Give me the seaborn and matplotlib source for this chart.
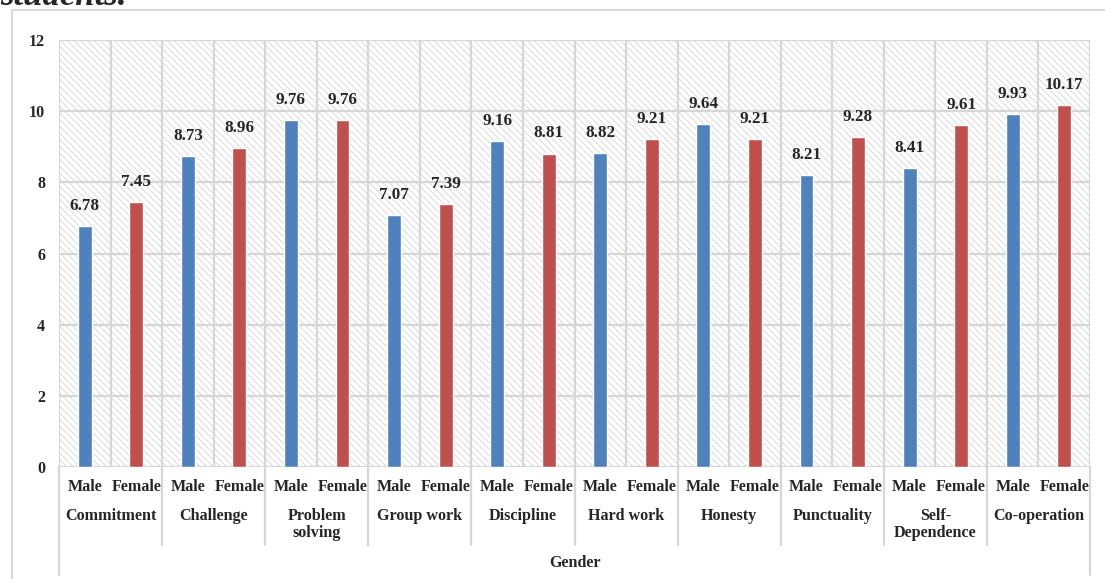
import matplotlib
matplotlib.use("Agg")
import matplotlib.pyplot as plt
import matplotlib.transforms as mtransforms
from matplotlib.patches import Rectangle
import seaborn as sns
import pandas as pd

categories = ["Commitment", "Challenge", "Problem\nsolving", "Group work", "Discipline",
              "Hard work", "Honesty", "Punctuality", "Self-\nDependence", "Co-operation"]
genders = ["Male", "Female"]
male_values = [6.78, 8.73, 9.76, 7.07, 9.16, 8.82, 9.64, 8.21, 8.41, 9.93]
female_values = [7.45, 8.96, 9.76, 7.39, 8.81, 9.21, 9.21, 9.28, 9.61, 10.17]
y_ticks = [0, 2, 4, 6, 8, 10, 12]
axis_title = "Gender"
heading = "students."

rows = []
for i, cat in enumerate(categories):
    for g, vals in zip(genders, (male_values, female_values)):
        rows.append({"slot": f"{i}-{g}", "category": cat, "gender": g, "value": vals[i]})
df = pd.DataFrame(rows)
slot_order = list(df["slot"])

sns.set_theme(style="white")
plt.rcParams["font.family"] = ["Liberation Serif", "DejaVu Serif"]
plt.rcParams["hatch.linewidth"] = 0.7
plt.rcParams["hatch.color"] = "#dadada"

fig = plt.figure(figsize=(11.05, 5.79), dpi=100)
ax = fig.add_axes([59 / 1105, 1 - 467 / 579, (1090 - 59) / 1105, (467 - 40) / 579])

palette = {"Male": "#4F81BD", "Female": "#C0504D"}
sns.barplot(data=df, x="slot", y="value", hue="gender", order=slot_order,
            palette=palette, dodge=False, width=0.27, legend=False, ax=ax,
            zorder=3, saturation=1, errorbar=None)

n = len(slot_order)
ax.set_xlim(-0.5, n - 0.5)
ax.set_ylim(0, 12)

# hatched plot background
bg = Rectangle((0, 0), 1, 1, transform=ax.transAxes, facecolor="white",
               edgecolor="#dadada", hatch="\\\\\\\\\\", linewidth=0, zorder=0)
ax.add_patch(bg)

# gridlines
for y in y_ticks:
    ax.axhline(y, color="#d6d6d6", lw=1.6, zorder=1)
for k in range(n + 1):
    ax.axvline(k - 0.5, color="#d6d6d6", lw=1.6, zorder=1)

for s in ax.spines.values():
    s.set_visible(False)

ax.set_yticks(y_ticks)
ax.set_yticklabels([str(t) for t in y_ticks], fontsize=11.5, fontweight="bold")
ax.tick_params(axis="y", length=0, pad=10)
ax.set_xticks([])
ax.set_xlabel("")
ax.set_ylabel("")

# value labels
for bar_slot, val in zip(range(n), df["value"]):
    ax.annotate(f"{val:.2f}", (bar_slot, val), xytext=(0, 14.5), textcoords="offset points",
                ha="center", va="center", fontsize=12.3, fontweight="bold", zorder=4)

# multi-level category axis
trans = mtransforms.blended_transform_factory(ax.transData, ax.transAxes)
axh = 427.0
for k, g in enumerate(df["gender"]):
    ax.text(k, -20 / axh, g, transform=trans, ha="center", va="center",
            fontsize=11.6, fontweight="bold")
for i, cat in enumerate(categories):
    ax.text(2 * i + 0.5, -41 / axh, cat, transform=trans, ha="center", va="top",
            fontsize=11.6, fontweight="bold", linespacing=1.1)
for i in range(1, len(categories)):
    ax.plot([2 * i - 0.5] * 2, [0, -78 / axh], transform=trans, color="#d6d6d6",
            lw=1.6, clip_on=False)
for xe in (-0.5, n - 0.5):
    ax.plot([xe] * 2, [0, -108 / axh], transform=trans, color="#d6d6d6",
            lw=1.6, clip_on=False)
ax.text((n - 1) / 2, -96 / axh, axis_title, transform=trans, ha="center", va="center",
        fontsize=11.6, fontweight="bold")

# chart frame
frame = Rectangle((12 / 1105, -0.1), 1.2, 1 - 10 / 579 + 0.1, transform=fig.transFigure,
                  facecolor="none", edgecolor="#d9d9d9", lw=1.5)
fig.patches.append(frame)

fig.text(0.0, 1 - 5 / 579, heading, ha="left", va="baseline", fontsize=25,
         fontweight="bold", fontstyle="italic")

fig.savefig("out.png", dpi=100)
